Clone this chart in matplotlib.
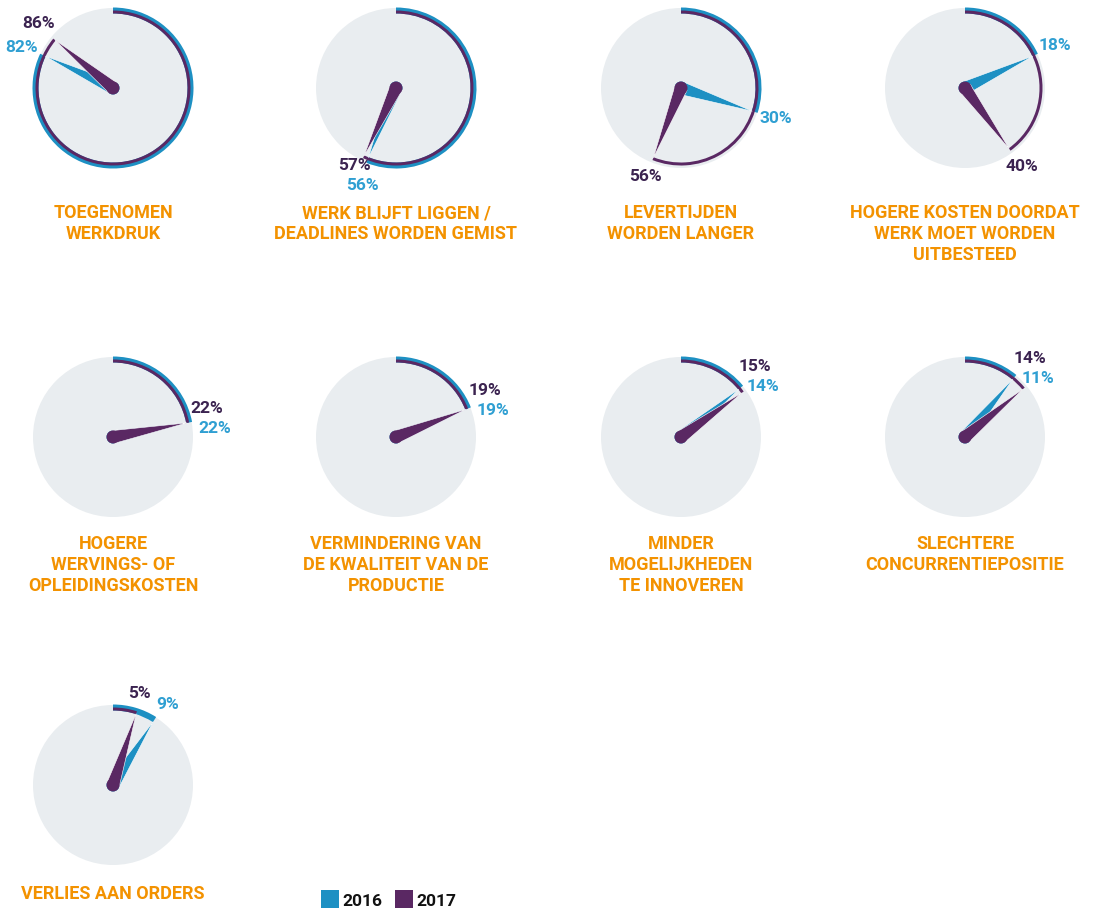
import matplotlib

matplotlib.use("Agg")
import matplotlib.pyplot as plt
import numpy as np
from matplotlib.patches import Circle, Polygon, Rectangle, Wedge

# Share of respondents per consequence, 2016 vs 2017
TITLES = [
    "TOEGENOMEN\nWERKDRUK",
    "WERK BLIJFT LIGGEN /\nDEADLINES WORDEN GEMIST",
    "LEVERTIJDEN\nWORDEN LANGER",
    "HOGERE KOSTEN DOORDAT\nWERK MOET WORDEN\nUITBESTEED",
    "HOGERE\nWERVINGS- OF\nOPLEIDINGSKOSTEN",
    "VERMINDERING VAN\nDE KWALITEIT VAN DE\nPRODUCTIE",
    "MINDER\nMOGELIJKHEDEN\nTE INNOVEREN",
    "SLECHTERE\nCONCURRENTIEPOSITIE",
    "VERLIES AAN ORDERS",
]
VALUES_2016 = [82, 56, 30, 18, 22, 19, 14, 11, 9]
VALUES_2017 = [86, 57, 56, 40, 22, 19, 15, 14, 5]
YEARS = ["2016", "2017"]

W, H = 1098, 909
COL_X = [113, 396, 681, 965]
ROW_Y = [88, 437, 785]
TITLE_Y = [204, 535, 885]

R_DISC = 80
C_DISC = "#e9edf0"
C_BLUE = "#1d90c3"
C_PURPLE = "#5a2863"
C_TXT_BLUE = "#2f9fd2"
C_TXT_PURPLE = "#3b2350"
C_ORANGE = "#f39200"
FONT = ["Roboto", "DejaVu Sans"]


def to_ax(x, y):
    """Screen pixel (y down) -> axes data (y up)."""
    return x, H - y


def angle(v):
    """Percentage -> math angle in degrees (clockwise from 12 o'clock)."""
    return 90.0 - 360.0 * v / 100.0


def needle(ax, cx, cy, v, color, r_tip=75, half=6.5, z=5):
    a = np.deg2rad(angle(v))
    d = np.array([np.cos(a), np.sin(a)])
    n = np.array([-d[1], d[0]])
    c = np.array([cx, cy])
    tip = c + r_tip * d
    pts = [c + half * n, tip, c - half * n]
    ax.add_patch(Polygon(pts, closed=True, facecolor=color, edgecolor="white",
                         linewidth=0.4, joinstyle="miter", zorder=z))
    ax.add_patch(Circle(c, half, facecolor=color, edgecolor="none", zorder=z + 0.1))


def label_pos(cx, cy, v):
    # push labels out further where the text runs sideways off the ring
    a = np.deg2rad(angle(v))
    r = 93 + 7 * abs(np.cos(a))
    return np.array([cx + r * np.cos(a), cy + r * np.sin(a)])


fig = plt.figure(figsize=(W / 100, H / 100), dpi=100)
ax = fig.add_axes([0, 0, 1, 1])
ax.set_xlim(0, W)
ax.set_ylim(0, H)
ax.axis("off")

for i, (title, v16, v17) in enumerate(zip(TITLES, VALUES_2016, VALUES_2017)):
    row, col = divmod(i, 4)
    cx, cy = to_ax(COL_X[col], ROW_Y[row])

    ax.add_patch(Circle((cx, cy), R_DISC, facecolor=C_DISC, edgecolor="none", zorder=1))
    # outer ring 2016, inner ring 2017 laid over it
    ax.add_patch(Wedge((cx, cy), R_DISC + 0.5, angle(v16), 90, width=6,
                       facecolor=C_BLUE, edgecolor="none", zorder=2))
    ax.add_patch(Wedge((cx, cy), R_DISC - 2.5, angle(v17), 90, width=3,
                       facecolor=C_PURPLE, edgecolor="none", zorder=3))

    needle(ax, cx, cy, v16, C_BLUE, z=5)
    needle(ax, cx, cy, v17, C_PURPLE, z=6)

    p16 = label_pos(cx, cy, v16)
    p17 = label_pos(cx, cy, v17)
    gap = p16 - p17
    dist = np.hypot(*gap)
    if dist < 20:
        # nearly equal values: stack 2017 above 2016
        m = (p16 + p17) / 2
        p17 = m + np.array([-4, 10])
        p16 = m + np.array([4, -10])
    elif dist < 30:
        push = gap / dist * (30 - dist) / 2
        p16 = p16 + push
        p17 = p17 - push
    ax.text(*p17, f"{v17}%", color=C_TXT_PURPLE, fontsize=12.5, fontweight="bold",
            family=FONT, ha="center", va="center", zorder=8)
    ax.text(*p16, f"{v16}%", color=C_TXT_BLUE, fontsize=12.5, fontweight="bold",
            family=FONT, ha="center", va="center", zorder=8)

    tx, ty = to_ax(COL_X[col], TITLE_Y[row])
    ax.text(tx, ty, title, color=C_ORANGE, fontsize=13, fontweight="bold",
            family=FONT, ha="center", va="top", linespacing=1.22, zorder=8)

# legend
for x0, year, color in zip([321, 395], YEARS, [C_BLUE, C_PURPLE]):
    lx, ly = to_ax(x0, 908)
    ax.add_patch(Rectangle((lx, ly), 18, 18, facecolor=color, edgecolor="none"))
    ax.text(lx + 21, ly - 1, year, color="#111111", fontsize=12.5, fontweight="bold",
            family=FONT, ha="left", va="bottom")

fig.savefig("out.png", dpi=100, facecolor="white")
